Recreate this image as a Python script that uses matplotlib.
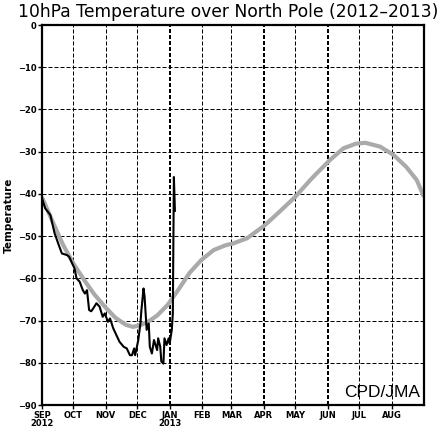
import pandas as pd
import matplotlib
matplotlib.use("Agg")
from matplotlib import pyplot as plt

start = pd.Timestamp("2012-09-01")

# observed 10hPa temperature (days since 1 Sep 2012)
obs_day = [0, 3, 8, 12, 16, 19, 24, 26, 28, 31, 33, 36, 39, 41, 43, 45, 47, 49, 52, 55,
           58, 60, 63, 65, 68, 71, 74, 78, 81, 84, 86, 88, 89, 92, 94, 95, 97, 98, 100,
           102, 103, 105, 107, 110, 111, 113, 114, 116, 117, 119, 121, 122, 124, 125,
           126, 127]
obs_temp = [-41.0, -43.4, -45.0, -49.3, -52.1, -54.1, -54.5, -54.9, -56.0, -57.6, -60.0,
            -60.8, -62.8, -63.6, -62.8, -67.5, -67.8, -67.1, -65.9, -66.7, -69.1, -68.3,
            -70.3, -69.5, -71.8, -73.4, -75.0, -76.2, -76.6, -78.2, -78.2, -76.6, -78.2,
            -74.6, -70.7, -67.5, -62.4, -64.3, -72.2, -70.7, -76.2, -77.8, -74.6, -77.0,
            -74.2, -76.2, -79.7, -80.2, -74.2, -75.8, -74.2, -75.4, -72.2, -68.3,
            -36.0, -44.0]

# climatology
clim_day = [0, 10, 20, 30, 40, 50, 60, 70, 80, 87, 95, 103, 110, 120, 130, 141, 152,
            164, 175, 183, 196, 213, 227, 242, 256, 261, 275, 288, 300, 309, 323, 336,
            348, 358, 365]
clim_temp = [-40.8, -46.5, -52.0, -56.5, -60.3, -63.8, -66.7, -69.3, -71.0, -71.5, -71.0,
             -70.0, -68.8, -66.3, -62.8, -58.7, -55.7, -53.3, -52.2, -51.7, -50.5, -47.4,
             -44.2, -40.7, -36.8, -35.5, -32.0, -29.2, -28.1, -27.9, -28.8, -30.8, -33.6,
             -36.7, -40.7]

months = pd.date_range("2012-09-01", "2013-08-01", freq="MS")
month_labels = ["SEP\n2012", "OCT", "NOV", "DEC", "JAN\n2013", "FEB", "MAR", "APR",
                "MAY", "JUN", "JUL", "AUG"]
yticks = [0, -10, -20, -30, -40, -50, -60, -70, -80, -90]

obs_x = [start + pd.Timedelta(days=d) for d in obs_day]
clim_x = [start + pd.Timedelta(days=d) for d in clim_day]

fig = plt.figure(figsize=(4.44, 4.29), dpi=100)
ax = fig.add_axes([0.0946, 0.0559, 0.8604, 0.8858])

ax.set_xlim(start, pd.Timestamp("2013-09-01"))
ax.set_ylim(-90, 0)

# dashed grid
for y in yticks[1:-1]:
    ax.axhline(y, color="black", lw=0.72, ls=(0, (4, 2)), zorder=1)
for m in months[1:]:
    if m.month in (1, 4, 6):
        ax.axvline(m, color="black", lw=1.44, ls=(0, (2, 1)), zorder=1)
    else:
        ax.axvline(m, color="black", lw=0.72, ls=(0, (4, 2)), zorder=1)

ax.plot(clim_x, clim_temp, color="#aaaaaa", lw=3.0, solid_capstyle="butt", zorder=2)
ax.plot(obs_x, obs_temp, color="black", lw=1.5, zorder=3)

ax.set_xticks(months)
ax.set_xticklabels(month_labels, fontsize=6, fontweight="bold", linespacing=0.95)
ax.set_yticks(yticks)
ax.set_yticklabels([str(v) if v == 0 else "\u2212" + str(-v) for v in yticks],
                   fontsize=6, fontweight="bold")
ax.tick_params(axis="both", direction="out", length=3, width=1, pad=1)

for s in ax.spines.values():
    s.set_linewidth(1.6)

ax.set_ylabel("Temperature", fontsize=7.5, fontweight="bold", labelpad=3)
fig.text(0.515, 0.992, "10hPa Temperature over North Pole (2012\u20132013)",
         ha="center", va="top", fontsize=12.3)
ax.text(0.99, 0.012, "CPD/JMA", transform=ax.transAxes, ha="right", va="bottom",
        fontsize=12.5, family="Liberation Sans")

fig.savefig("out.png", dpi=100)
